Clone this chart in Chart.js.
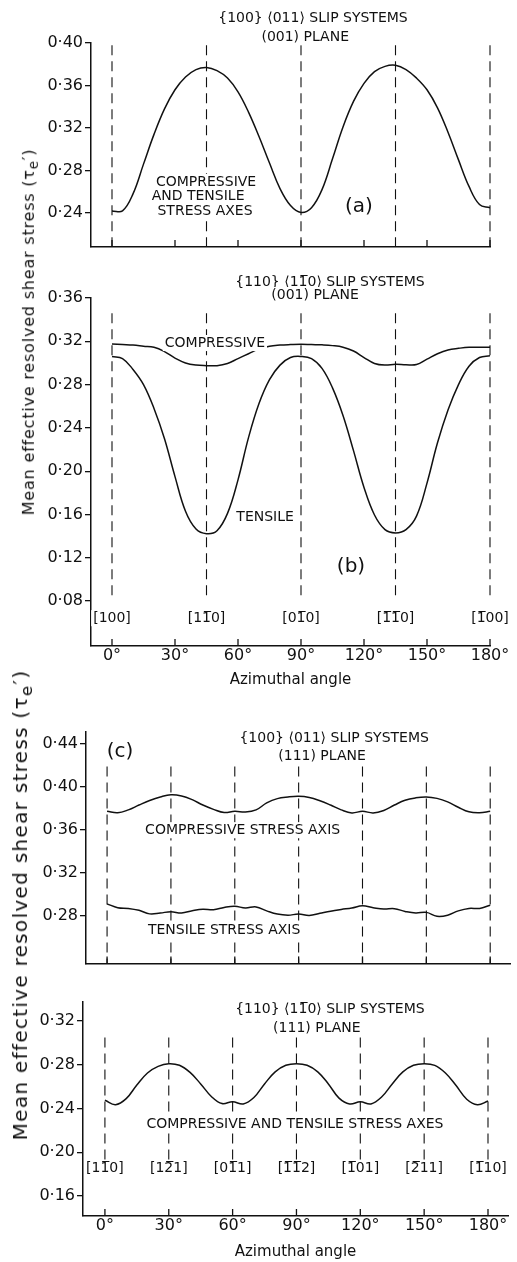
<!DOCTYPE html>
<html>
<head>
<meta charset="utf-8">
<script src="https://cdn.jsdelivr.net/npm/chart.js@4.4.1/dist/chart.umd.min.js"></script>
<style>
  body { margin: 0; background: #fff; width: 517px; height: 1262px; position: relative; overflow: hidden; }
  canvas { position: absolute; left: 0; }
  .ytitle { position: absolute; white-space: nowrap; font-family: "DejaVu Sans"; color: #111;
            transform: translate(-50%, -50%) rotate(-90deg); }
</style>
</head>
<body>
<canvas id="chartA" width="517" height="260" style="top:0"></canvas>
<canvas id="chartB" width="517" height="440" style="top:260px"></canvas>
<canvas id="chartC" width="517" height="275" style="top:700px"></canvas>
<canvas id="chartD" width="517" height="287" style="top:975px"></canvas>
<div class="ytitle" style="left:30px; top:332px; font-size:16px; letter-spacing:0.8px">Mean effective resolved shear stress (τ<sub>e</sub>′)</div>
<div class="ytitle" style="left:22px; top:905px; font-size:20px; letter-spacing:1.3px">Mean effective resolved shear stress (τ<sub>e</sub>′)</div>
<script>
// azimuthal angle, degrees
const angles = [0, 5, 10, 15, 20, 25, 30, 35, 40, 45, 50, 55, 60, 65, 70, 75, 80, 85, 90,
  95, 100, 105, 110, 115, 120, 125, 130, 135, 140, 145, 150, 155, 160, 165, 170, 175, 180];
const xTicks = [0, 30, 60, 90, 120, 150, 180];

// (a) {100}<011>, (001) plane - compressive and tensile
const tauA = [0.242, 0.242, 0.258, 0.286, 0.314, 0.338, 0.356, 0.368, 0.375, 0.377, 0.374, 0.367, 0.354,
  0.335, 0.312, 0.287, 0.263, 0.247, 0.2405, 0.245, 0.262, 0.291, 0.321, 0.345, 0.362, 0.373, 0.378,
  0.379, 0.375, 0.367, 0.356, 0.339, 0.316, 0.290, 0.265, 0.248, 0.245];

// (b) {110}<1-10>, (001) plane
const tauBComp = [0.3175, 0.317, 0.3165, 0.3155, 0.3145, 0.3105, 0.3045, 0.300, 0.298, 0.2975, 0.2975,
  0.2995, 0.304, 0.3085, 0.313, 0.3155, 0.3165, 0.317, 0.3173, 0.317, 0.3167, 0.316, 0.3145, 0.311,
  0.305, 0.2995, 0.298, 0.2988, 0.2983, 0.2985, 0.3035, 0.3085, 0.312, 0.3135, 0.3145, 0.3145, 0.3145];
const tauBTens = [0.306, 0.304, 0.294, 0.280, 0.258, 0.230, 0.195, 0.163, 0.1466, 0.1423, 0.145, 0.161,
  0.192, 0.231, 0.2625, 0.2846, 0.298, 0.305, 0.306, 0.304, 0.295, 0.277, 0.2515, 0.219, 0.185, 0.1595,
  0.146, 0.143, 0.146, 0.1585, 0.189, 0.2262, 0.2565, 0.280, 0.297, 0.305, 0.3066];

// (c) {100}<011>, (111) plane
const tauCComp = [0.3772, 0.3758, 0.3785, 0.383, 0.3872, 0.3905, 0.3926, 0.3915, 0.388, 0.383, 0.379,
  0.376, 0.3772, 0.3765, 0.3785, 0.385, 0.389, 0.3905, 0.3911, 0.390, 0.387, 0.383, 0.3785, 0.3757,
  0.3772, 0.3757, 0.378, 0.383, 0.3875, 0.3897, 0.3905, 0.3892, 0.386, 0.381, 0.3767, 0.3758, 0.3772];
const tauCTens = [0.291, 0.2875, 0.2868, 0.285, 0.2817, 0.2825, 0.2837, 0.2825, 0.2846, 0.286, 0.2855,
  0.2877, 0.2888, 0.2872, 0.2882, 0.2845, 0.2815, 0.2805, 0.2815, 0.2802, 0.2822, 0.2842, 0.2858, 0.2872,
  0.2892, 0.2875, 0.2862, 0.2865, 0.284, 0.2825, 0.2831, 0.2795, 0.2805, 0.2845, 0.2868, 0.2868, 0.2898];

// (d) {110}<1-10>, (111) plane - compressive and tensile
const tauD = [0.2475, 0.2435, 0.249, 0.2615, 0.2725, 0.2785, 0.281, 0.2795, 0.273, 0.2625, 0.251, 0.2445,
  0.2462, 0.2442, 0.250, 0.2625, 0.2735, 0.2795, 0.281, 0.2795, 0.2735, 0.2625, 0.2495, 0.2442, 0.2462,
  0.2442, 0.2505, 0.2625, 0.2735, 0.2795, 0.281, 0.2795, 0.2725, 0.261, 0.2485, 0.2435, 0.2468];

const yTicksA = [0.24, 0.28, 0.32, 0.36, 0.40];
const yTicksB = [0.08, 0.12, 0.16, 0.20, 0.24, 0.28, 0.32, 0.36];
const yTicksC = [0.28, 0.32, 0.36, 0.40, 0.44];
const yTicksD = [0.16, 0.20, 0.24, 0.28, 0.32];

const refAnglesB = [0, 45, 90, 135, 180];
const refAnglesD = [0, 30, 60, 90, 120, 150, 180];
const dirLabelsB = ['[100]', '[11\u03050]', '[01\u03050]', '[1\u03051\u03050]', '[1\u030500]'];
const dirLabelsD = ['[11\u03050]', '[12\u03051]', '[01\u03051]', '[1\u03051\u03052]', '[1\u030501]', '[2\u030511]', '[1\u030510]'];

Chart.defaults.font.family = '"DejaVu Sans"';
Chart.defaults.color = '#111';

const ink = '#111';

const decor = {
  id: 'decor',
  beforeDatasetsDraw(chart, args, opts) {
    const { ctx, chartArea } = chart;
    const x = chart.scales.x, y = chart.scales.y;
    ctx.save();
    ctx.strokeStyle = ink;
    ctx.lineWidth = 1.3;
    xTicks.forEach(v => {
      const px = x.getPixelForValue(v);
      ctx.beginPath();
      ctx.moveTo(px, chartArea.bottom);
      ctx.lineTo(px, chartArea.bottom - 7);
      ctx.stroke();
    });
    ctx.setLineDash([10, 6]);
    ctx.lineWidth = 1.1;
    opts.refAngles.forEach(a => {
      const px = x.getPixelForValue(a);
      ctx.beginPath();
      ctx.moveTo(px, y.getPixelForValue(opts.refTop));
      ctx.lineTo(px, y.getPixelForValue(opts.refBottom));
      ctx.stroke();
    });
    ctx.restore();
  },
  afterDatasetsDraw(chart, args, opts) {
    const { ctx } = chart;
    const x = chart.scales.x, y = chart.scales.y;
    ctx.save();
    ctx.textAlign = 'center';
    ctx.textBaseline = 'middle';
    opts.texts.forEach(t => {
      ctx.font = (t.size || 14) + 'px "DejaVu Sans"';
      const px = x.getPixelForValue(t.x), py = y.getPixelForValue(t.y);
      const w = ctx.measureText(t.t).width;
      const h = (t.size || 14) * 1.15;
      ctx.fillStyle = '#fff';
      ctx.fillRect(px - w / 2 - 2, py - h / 2, w + 4, h);
      ctx.fillStyle = ink;
      ctx.fillText(t.t, px, py);
    });
    ctx.restore();
  }
};

function line(values) {
  return {
    data: angles.map((a, i) => ({ x: a, y: values[i] })),
    borderColor: ink,
    borderWidth: 1.5,
    pointRadius: 0,
    fill: false,
    tension: 0.4,
  };
}

function makeChart(id, cfg) {
  return new Chart(document.getElementById(id), {
    type: 'line',
    data: { datasets: cfg.series.map(line) },
    plugins: [decor],
    options: {
      responsive: false,
      animation: false,
      devicePixelRatio: 1,
      layout: { padding: { top: cfg.padTop, right: cfg.padRight, left: 0, bottom: 0 } },
      plugins: {
        legend: { display: false },
        tooltip: { enabled: false },
        decor: { refAngles: cfg.refAngles, refTop: cfg.refTop, refBottom: cfg.refBottom, texts: cfg.texts },
      },
      scales: {
        x: {
          type: 'linear', min: cfg.xMin, max: cfg.xMax,
          afterBuildTicks: s => { s.ticks = xTicks.map(v => ({ value: v })); },
          afterFit: s => { s.height = cfg.xHeight; },
          grid: { drawOnChartArea: false, drawTicks: false },
          border: { color: ink, width: 1.5 },
          ticks: { display: cfg.xLabels, font: { size: 16 }, color: ink, padding: 0, maxRotation: 0,
                   callback: v => v + '°' },
          title: { display: cfg.xLabels, text: 'Azimuthal angle', font: { size: 15 }, color: ink,
                   padding: { top: 0, bottom: cfg.titlePad } },
        },
        y: {
          type: 'linear', min: cfg.yMin, max: cfg.yMax,
          afterBuildTicks: s => { s.ticks = cfg.yTicks.map(v => ({ value: v })); },
          afterFit: s => { s.width = cfg.yWidth; },
          grid: { drawOnChartArea: false, tickLength: 6, color: ink, lineWidth: 1.3 },
          border: { color: ink, width: 1.5 },
          ticks: { font: { size: 16 }, color: ink, padding: 2,
                   callback: v => v.toFixed(2).replace('.', '·') },
        },
      },
    },
  });
}

makeChart('chartA', {
  series: [tauA],
  xMin: -10, xMax: 180, xHeight: 13, xLabels: false, titlePad: 0,
  yMin: 0.208, yMax: 0.40, yTicks: yTicksA, yWidth: 91,
  padTop: 43, padRight: 27,
  refAngles: refAnglesB, refTop: 0.398, refBottom: 0.208,
  texts: [
    { t: '{100} ⟨011⟩ SLIP SYSTEMS', x: 95.7, y: 0.4235 },
    { t: '(001) PLANE', x: 92, y: 0.4056 },
    { t: 'COMPRESSIVE', x: 44.8, y: 0.2692 },
    { t: 'AND TENSILE', x: 41, y: 0.256 },
    { t: 'STRESS AXES', x: 44.3, y: 0.2419 },
    { t: '(a)', x: 117.6, y: 0.2456, size: 20 },
  ],
});

makeChart('chartB', {
  series: [tauBComp, tauBTens],
  xMin: -10, xMax: 180, xHeight: 54, xLabels: true, titlePad: 11,
  yMin: 0.0385, yMax: 0.36, yTicks: yTicksB, yWidth: 91,
  padTop: 38, padRight: 27,
  refAngles: refAnglesB, refTop: 0.346, refBottom: 0.082,
  texts: [
    { t: '{110} ⟨11\u03050⟩ SLIP SYSTEMS', x: 103.8, y: 0.3748 },
    { t: '(001) PLANE', x: 96.7, y: 0.3628 },
    { t: 'COMPRESSIVE', x: 49, y: 0.3184 },
    { t: 'TENSILE', x: 72.9, y: 0.1576 },
    { t: '(b)', x: 113.8, y: 0.1114, size: 20 },
  ].concat(refAnglesB.map((a, i) => ({ t: dirLabelsB[i], x: a, y: 0.0642 }))),
});

makeChart('chartC', {
  series: [tauCComp, tauCTens],
  xMin: -9.9, xMax: 189.3, xHeight: 10, xLabels: false, titlePad: 0,
  yMin: 0.2356, yMax: 0.451, yTicks: yTicksC, yWidth: 86,
  padTop: 32, padRight: 7,
  refAngles: refAnglesD, refTop: 0.419, refBottom: 0.2356,
  texts: [
    { t: '(c)', x: 6.1, y: 0.4326, size: 20 },
    { t: '{100} ⟨011⟩ SLIP SYSTEMS', x: 106.7, y: 0.4455 },
    { t: '(111) PLANE', x: 101, y: 0.428 },
    { t: 'COMPRESSIVE STRESS AXIS', x: 63.7, y: 0.3596 },
    { t: 'TENSILE STRESS AXIS', x: 55, y: 0.2663 },
  ],
});

makeChart('chartD', {
  series: [tauD],
  xMin: -10.3, xMax: 189.4, xHeight: 46, xLabels: true, titlePad: 1,
  yMin: 0.1417, yMax: 0.3374, yTicks: yTicksD, yWidth: 83,
  padTop: 27, padRight: 9,
  refAngles: refAnglesD, refTop: 0.305, refBottom: 0.1926,
  texts: [
    { t: '{110} ⟨11\u03050⟩ SLIP SYSTEMS', x: 105.7, y: 0.3311 },
    { t: '(111) PLANE', x: 99.6, y: 0.3135 },
    { t: 'COMPRESSIVE AND TENSILE STRESS AXES', x: 89.3, y: 0.2257 },
  ].concat(refAnglesD.map((a, i) => ({ t: dirLabelsD[i], x: a, y: 0.185 }))),
});
</script>
</body>
</html>
